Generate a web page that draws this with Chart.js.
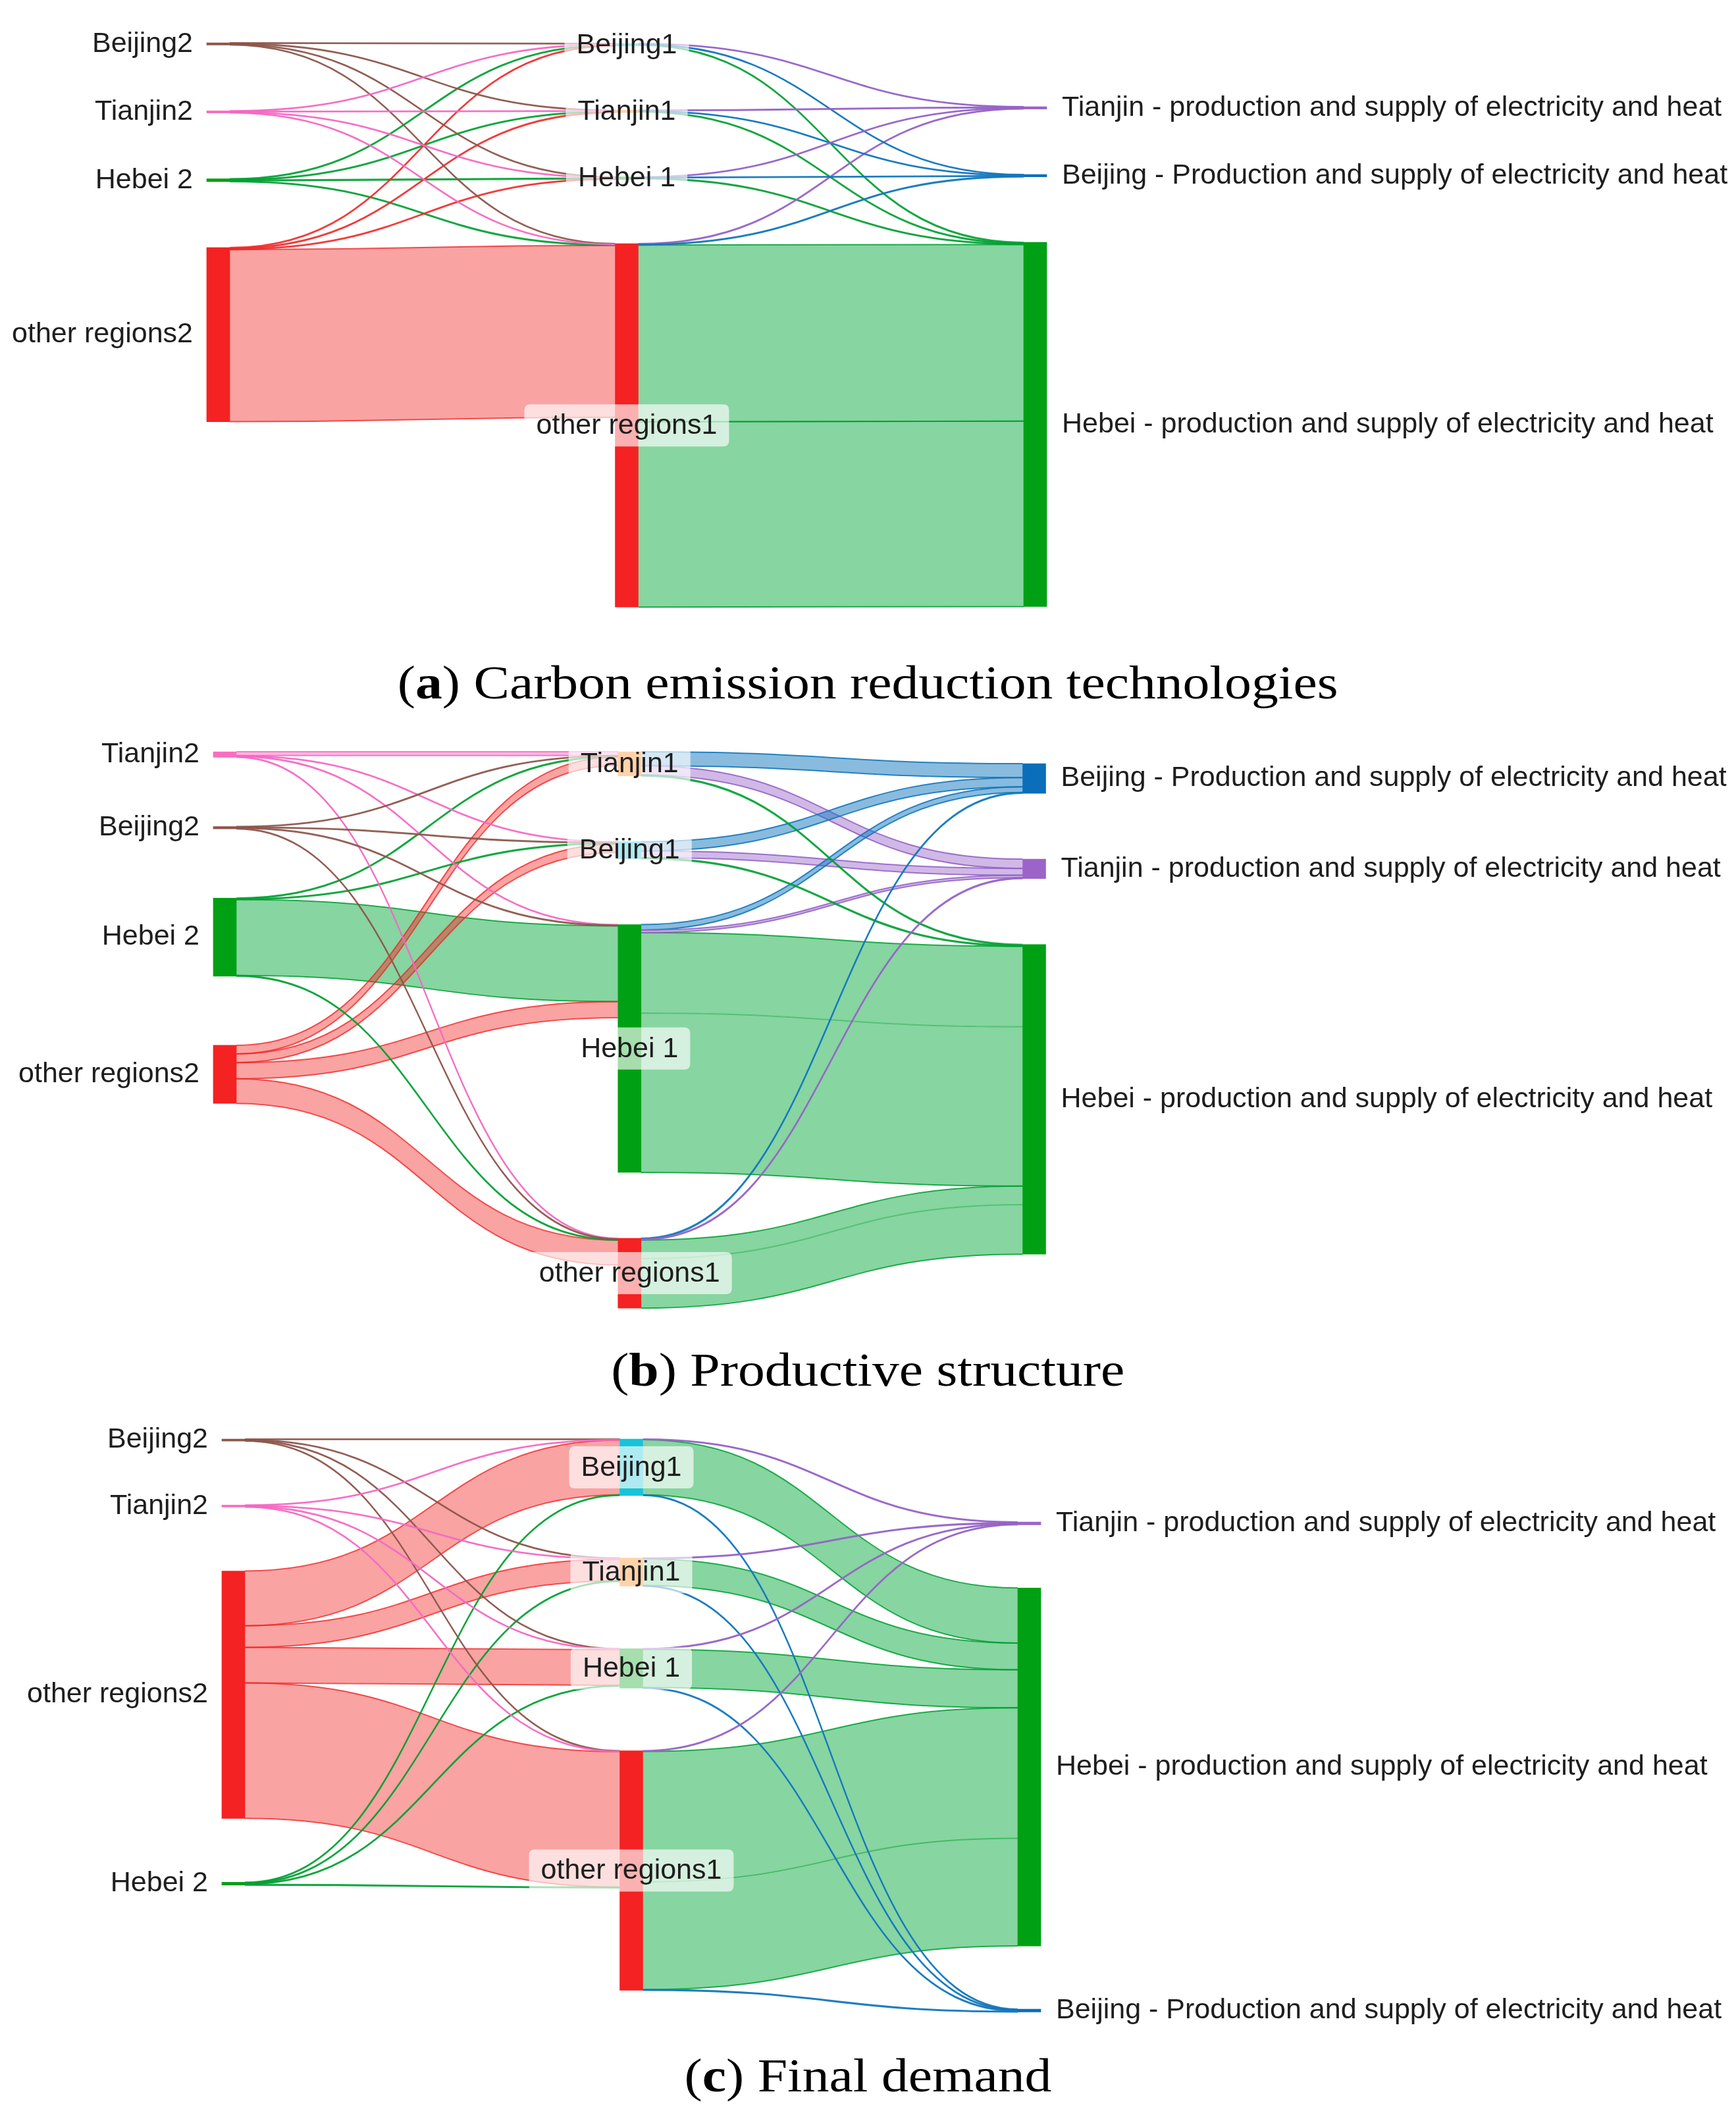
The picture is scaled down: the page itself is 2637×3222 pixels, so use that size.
<!DOCTYPE html>
<html>
<head>
<meta charset="utf-8">
<script src="https://cdn.jsdelivr.net/npm/chart.js@4.4.1/dist/chart.umd.min.js"></script>
<style>
html,body{margin:0;padding:0;background:#ffffff;}
body{width:2637px;height:3222px;position:relative;overflow:hidden;}
canvas{position:absolute;left:0;}
.cap{position:absolute;left:0;width:2637px;text-align:center;font-family:"Liberation Serif","Times New Roman",serif;font-size:71px;line-height:71px;color:#000;white-space:nowrap;}
.cap span{display:inline-block;transform:scaleX(1.15);transform-origin:50% 50%;}
</style>
</head>
<body>
<canvas id="chartA"></canvas>
<canvas id="chartB"></canvas>
<canvas id="chartC"></canvas>
<div class="cap" style="top:1002px"><span>(<b>a</b>) Carbon emission reduction technologies</span></div>
<div class="cap" style="top:2046px"><span>(<b>b</b>) Productive structure</span></div>
<div class="cap" style="top:3118px"><span>(<b>c</b>) Final demand</span></div>
<script>
// ---------------- DATA ----------------
const TJP = 'Tianjin - production and supply of electricity and heat';
const BJP = 'Beijing - Production and supply of electricity and heat';
const HBP = 'Hebei - production and supply of electricity and heat';

// (a) Carbon emission reduction technologies
const leftNodesA  = ['Beijing2', 'Tianjin2', 'Hebei 2', 'other regions2'];
const midNodesA   = ['Beijing1', 'Tianjin1', 'Hebei 1', 'other regions1'];
const rightNodesA = [TJP, BJP, HBP];
const flowsA = [
  ['Beijing2', 'Beijing1', 0.15], ['Beijing2', 'Tianjin1', 0.15], ['Beijing2', 'Hebei 1', 0.15], ['Beijing2', 'other regions1', 0.15],
  ['Tianjin2', 'Beijing1', 0.15], ['Tianjin2', 'Tianjin1', 0.15], ['Tianjin2', 'Hebei 1', 0.15], ['Tianjin2', 'other regions1', 0.15],
  ['Hebei 2', 'Beijing1', 0.2], ['Hebei 2', 'Tianjin1', 0.2], ['Hebei 2', 'Hebei 1', 0.2], ['Hebei 2', 'other regions1', 0.2],
  ['other regions2', 'Beijing1', 0.2], ['other regions2', 'Tianjin1', 0.2], ['other regions2', 'Hebei 1', 0.2], ['other regions2', 'other regions1', 47.5],
  ['Beijing1', TJP, 0.15], ['Beijing1', BJP, 0.15], ['Beijing1', HBP, 0.2],
  ['Tianjin1', TJP, 0.15], ['Tianjin1', BJP, 0.15], ['Tianjin1', HBP, 0.2],
  ['Hebei 1', TJP, 0.15], ['Hebei 1', BJP, 0.15], ['Hebei 1', HBP, 0.2],
  ['other regions1', TJP, 0.2], ['other regions1', BJP, 0.2], ['other regions1', HBP, 48.8], ['other regions1', HBP, 51.2]
];

// (b) Productive structure
const leftNodesB  = ['Tianjin2', 'Beijing2', 'Hebei 2', 'other regions2'];
const midNodesB   = ['Tianjin1', 'Beijing1', 'Hebei 1', 'other regions1'];
const rightNodesB = [BJP, TJP, HBP];
const flowsB = [
  ['Tianjin2', 'Tianjin1', 1.2], ['Tianjin2', 'Beijing1', 0.2], ['Tianjin2', 'Hebei 1', 0.2], ['Tianjin2', 'other regions1', 0.2],
  ['Beijing2', 'Tianjin1', 0.2], ['Beijing2', 'Beijing1', 0.2], ['Beijing2', 'Hebei 1', 0.2], ['Beijing2', 'other regions1', 0.2],
  ['Hebei 2', 'Tianjin1', 0.25], ['Hebei 2', 'Beijing1', 0.25], ['Hebei 2', 'Hebei 1', 24.5], ['Hebei 2', 'other regions1', 0.25],
  ['other regions2', 'Tianjin1', 2.8], ['other regions2', 'Beijing1', 2.8], ['other regions2', 'Hebei 1', 5.2], ['other regions2', 'other regions1', 8.0],
  ['Tianjin1', BJP, 4.5], ['Tianjin1', TJP, 3.0], ['Tianjin1', HBP, 0.3],
  ['Beijing1', BJP, 3.0], ['Beijing1', TJP, 2.2], ['Beijing1', HBP, 0.3],
  ['Hebei 1', BJP, 1.8], ['Hebei 1', TJP, 0.8], ['Hebei 1', HBP, 26.0], ['Hebei 1', HBP, 51.5],
  ['other regions1', BJP, 0.3], ['other regions1', TJP, 0.3], ['other regions1', HBP, 6.0], ['other regions1', HBP, 16.0]
];

// (c) Final demand
const leftNodesC  = ['Beijing2', 'Tianjin2', 'other regions2', 'Hebei 2'];
const midNodesC   = ['Beijing1', 'Tianjin1', 'Hebei 1', 'other regions1'];
const rightNodesC = [TJP, HBP, BJP];
const flowsC = [
  ['Beijing2', 'Beijing1', 0.15], ['Beijing2', 'Tianjin1', 0.15], ['Beijing2', 'Hebei 1', 0.15], ['Beijing2', 'other regions1', 0.15],
  ['Tianjin2', 'Beijing1', 0.15], ['Tianjin2', 'Tianjin1', 0.15], ['Tianjin2', 'Hebei 1', 0.15], ['Tianjin2', 'other regions1', 0.15],
  ['other regions2', 'Beijing1', 15.4], ['other regions2', 'Tianjin1', 6.1], ['other regions2', 'Hebei 1', 10.0], ['other regions2', 'other regions1', 38.1],
  ['Hebei 2', 'Beijing1', 0.2], ['Hebei 2', 'Tianjin1', 0.2], ['Hebei 2', 'Hebei 1', 0.2], ['Hebei 2', 'other regions1', 0.2],
  ['Beijing1', TJP, 0.2], ['Beijing1', HBP, 15.5], ['Beijing1', BJP, 0.2],
  ['Tianjin1', TJP, 0.2], ['Tianjin1', HBP, 7.5], ['Tianjin1', BJP, 0.2],
  ['Hebei 1', TJP, 0.2], ['Hebei 1', HBP, 10.7], ['Hebei 1', BJP, 0.2],
  ['other regions1', TJP, 0.2], ['other regions1', HBP, 36.7], ['other regions1', HBP, 30.3], ['other regions1', BJP, 0.2]
];

// ---------------- STYLE ----------------
const COLOR_OF = {
  'Beijing2': 'brown', 'Tianjin2': 'pink', 'Hebei 2': 'green', 'other regions2': 'red',
  'Beijing1': 'cyan', 'Tianjin1': 'orange', 'Hebei 1': 'green', 'other regions1': 'red',
  [TJP]: 'purple', [BJP]: 'blue', [HBP]: 'green'
};
const NODE_COLORS = {
  brown: '#8c564b', pink: '#fa6ec0', green: '#00a014', red: '#f42222',
  cyan: '#17c3d8', orange: '#ff7f0e', purple: '#9c64c8', blue: '#0a6eba'
};
const LINK_STYLE = {
  brown:  { fill: 'rgba(140,86,75,0.35)',  line: [140, 86, 75, 0.85] },
  pink:   { fill: 'rgba(248,105,190,0.45)', line: [245, 105, 195, 0.85] },
  green:  { fill: 'rgba(0,165,55,0.47)',   line: [0, 160, 50, 0.85] },
  red:    { fill: 'rgba(240,25,25,0.40)',  line: [240, 40, 40, 0.8] },
  purple: { fill: 'rgba(150,100,200,0.45)', line: [150, 100, 200, 0.9] },
  blue:   { fill: 'rgba(20,120,190,0.50)', line: [20, 120, 190, 0.9] }
};
const NODE_W = 35;
const PAGE_W = 2637;
const LABEL_FONT = '43px "Liberation Sans", Arial, sans-serif';

const LAYOUTS = {
  A: { top: 0,    height: 1000, ppu: 5.5,  colX: [331.5, 620.5],  colTop: [65, 66, 162],     pad: [100, 97.5, 99.5], splitAlpha: 0.8 },
  B: { top: 1100, height: 960,  ppu: 4.7,  colX: [341.5, 614.75], colTop: [1142, 1142, 1160], pad: [105, 100, 100],  splitAlpha: 0.22 },
  C: { top: 2140, height: 980,  ppu: 5.4,  colX: [354.5, 604.5],  colTop: [2186, 2186, 2312], pad: [97, 95, 96],     splitAlpha: 0.3 }
};

// ---------------- SANKEY LAYOUT ----------------
function buildSankey(cols, flows, layout) {
  const nodes = {};
  cols.forEach((names, c) => names.forEach((name, i) => {
    nodes[name] = { name, col: c, idx: i, inV: 0, outV: 0, ins: [], outs: [] };
  }));
  const links = flows.map(([s, t, v], k) => ({ s: nodes[s], t: nodes[t], v, k }));
  links.forEach(l => { l.s.outV += l.v; l.t.inV += l.v; l.s.outs.push(l); l.t.ins.push(l); });
  // links sharing the same source and target: mark inner boundaries
  const groups = {};
  links.forEach(l => { const key = l.s.name + '|' + l.t.name; (groups[key] = groups[key] || []).push(l); });
  Object.values(groups).forEach(g => g.forEach((l, i) => { l.innerTop = i > 0; l.innerBottom = i < g.length - 1; }));
  cols.forEach((names, c) => {
    let y = (layout.colTop[c] - layout.top) / layout.ppu;
    names.forEach(name => {
      const n = nodes[name];
      n.value = Math.max(n.inV, n.outV);
      n.y0 = y; n.y1 = y + n.value;
      y = n.y1 + layout.pad[c] / layout.ppu;
    });
  });
  Object.values(nodes).forEach(n => {
    let y = n.y0;
    n.outs.sort((a, b) => (a.t.y0 - b.t.y0) || (a.k - b.k)).forEach(l => { l.sy0 = y; y += l.v; });
    y = n.y0;
    n.ins.sort((a, b) => (a.s.y0 - b.s.y0) || (a.k - b.k)).forEach(l => { l.ty0 = y; y += l.v; });
  });
  return { nodes, links };
}

function roundRect(ctx, x, y, w, h, r) {
  ctx.beginPath();
  ctx.moveTo(x + r, y);
  ctx.lineTo(x + w - r, y); ctx.quadraticCurveTo(x + w, y, x + w, y + r);
  ctx.lineTo(x + w, y + h - r); ctx.quadraticCurveTo(x + w, y + h, x + w - r, y + h);
  ctx.lineTo(x + r, y + h); ctx.quadraticCurveTo(x, y + h, x, y + h - r);
  ctx.lineTo(x, y + r); ctx.quadraticCurveTo(x, y, x + r, y);
  ctx.closePath();
}

function rgba(c, a) { return 'rgba(' + c[0] + ',' + c[1] + ',' + c[2] + ',' + a + ')'; }

function sankeyPlugin(sk, cols, layout) {
  return {
    id: 'sankeyLinksAndLabels',
    beforeDatasetsDraw(chart) {
      const ctx = chart.ctx, xs = chart.scales.x, ys = chart.scales.y;
      const ordered = [...sk.links].sort((a, b) => b.v - a.v);
      ordered.forEach(l => {
        const outer = l.s.col === 0 ? l.s : l.t;
        const st = LINK_STYLE[COLOR_OF[outer.name]];
        const x0 = xs.getPixelForValue(l.s.col) + NODE_W / 2;
        const x1 = xs.getPixelForValue(l.t.col) - NODE_W / 2;
        const xm = (x0 + x1) / 2;
        const a0 = ys.getPixelForValue(l.sy0), a1 = ys.getPixelForValue(l.sy0 + l.v);
        const b0 = ys.getPixelForValue(l.ty0), b1 = ys.getPixelForValue(l.ty0 + l.v);
        ctx.save();
        ctx.beginPath();
        ctx.moveTo(x0, a0);
        ctx.bezierCurveTo(xm, a0, xm, b0, x1, b0);
        ctx.lineTo(x1, b1);
        ctx.bezierCurveTo(xm, b1, xm, a1, x0, a1);
        ctx.closePath();
        ctx.fillStyle = st.fill;
        ctx.fill();
        ctx.lineWidth = 2;
        ctx.beginPath();
        ctx.moveTo(x0, a0);
        ctx.bezierCurveTo(xm, a0, xm, b0, x1, b0);
        ctx.strokeStyle = l.innerTop ? rgba(st.line, layout.splitAlpha) : rgba(st.line, st.line[3]);
        ctx.stroke();
        ctx.beginPath();
        ctx.moveTo(x1, b1);
        ctx.bezierCurveTo(xm, b1, xm, a1, x0, a1);
        ctx.strokeStyle = l.innerBottom ? rgba(st.line, layout.splitAlpha) : rgba(st.line, st.line[3]);
        ctx.stroke();
        ctx.restore();
      });
    },
    afterDatasetsDraw(chart) {
      const ctx = chart.ctx, xs = chart.scales.x, ys = chart.scales.y;
      ctx.save();
      ctx.font = LABEL_FONT;
      ctx.textBaseline = 'middle';
      cols.forEach((names, c) => names.forEach(name => {
        const n = sk.nodes[name];
        const cx = xs.getPixelForValue(c);
        const cy = (ys.getPixelForValue(n.y0) + ys.getPixelForValue(n.y1)) / 2;
        ctx.fillStyle = '#1e1e1e';
        if (c === 0) {
          ctx.textAlign = 'right';
          ctx.fillText(name, cx - NODE_W / 2 - 21, cy);
        } else if (c === cols.length - 1) {
          ctx.textAlign = 'left';
          ctx.fillText(name, cx + NODE_W / 2 + 23, cy);
        } else {
          const w = ctx.measureText(name).width + 36;
          const h = 64;
          ctx.fillStyle = 'rgba(255,255,255,0.65)';
          roundRect(ctx, cx - w / 2, cy - h / 2, w, h, 9);
          ctx.fill();
          ctx.fillStyle = '#1e1e1e';
          ctx.textAlign = 'center';
          ctx.fillText(name, cx, cy + 1);
        }
      }));
      ctx.restore();
    }
  };
}

function makeChart(id, cols, flows, layout) {
  const sk = buildSankey(cols, flows, layout);
  const order = cols.flat();
  const canvas = document.getElementById(id);
  canvas.width = PAGE_W;
  canvas.height = layout.height;
  canvas.style.top = layout.top + 'px';
  canvas.style.width = PAGE_W + 'px';
  canvas.style.height = layout.height + 'px';
  const xmin = -layout.colX[0] / layout.colX[1];
  const xmax = (PAGE_W - layout.colX[0]) / layout.colX[1];
  return new Chart(canvas, {
    type: 'bar',
    data: {
      datasets: [{
        data: order.map(n => ({ x: sk.nodes[n].col, y: [sk.nodes[n].y0, sk.nodes[n].y1] })),
        backgroundColor: order.map(n => NODE_COLORS[COLOR_OF[n]]),
        barThickness: NODE_W,
        borderWidth: 0,
        borderSkipped: false
      }]
    },
    options: {
      responsive: false,
      animation: false,
      devicePixelRatio: 1,
      events: [],
      layout: { padding: 0 },
      plugins: { legend: { display: false }, tooltip: { enabled: false } },
      scales: {
        x: { type: 'linear', min: xmin, max: xmax, offset: false, display: false, bounds: 'data', grid: { display: false } },
        y: { type: 'linear', min: 0, max: layout.height / layout.ppu, reverse: true, display: false, bounds: 'data', grid: { display: false } }
      }
    },
    plugins: [sankeyPlugin(sk, cols, layout)]
  });
}

makeChart('chartA', [leftNodesA, midNodesA, rightNodesA], flowsA, LAYOUTS.A);
makeChart('chartB', [leftNodesB, midNodesB, rightNodesB], flowsB, LAYOUTS.B);
makeChart('chartC', [leftNodesC, midNodesC, rightNodesC], flowsC, LAYOUTS.C);
</script>
</body>
</html>
